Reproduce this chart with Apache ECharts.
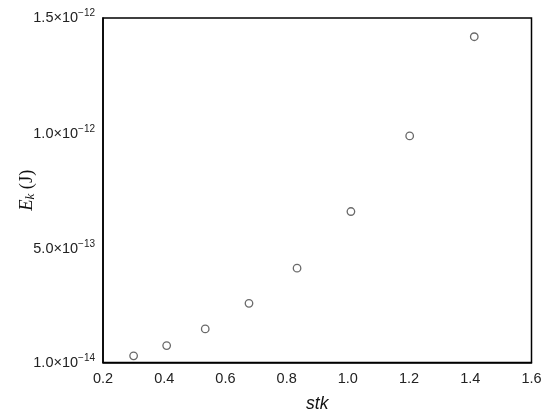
<!DOCTYPE html>
<html>
<head>
<meta charset="utf-8">
<script src="https://cdn.jsdelivr.net/npm/echarts@6/dist/echarts.min.js"></script>
<style>html,body{margin:0;padding:0;background:#fff}#c{width:550px;height:417px}</style>
</head>
<body>
<div id="c"></div>
<script>
const stk = [0.300, 0.408, 0.534, 0.677, 0.834, 1.010, 1.202, 1.413];
const Ek = [3.9e-14, 8.3e-14, 1.55e-13, 2.66e-13, 4.18e-13, 6.63e-13, 9.9e-13, 1.419e-12];
const yTickValues = [1.0e-14, 5.0e-13, 1.0e-12, 1.5e-12];
const yTickMantissa = ['1.0', '5.0', '1.0', '1.5'];
const yTickExponent = ['\u221214', '\u221213', '\u221212', '\u221212'];
const xMin = 0.2, xMax = 1.6, xStep = 0.2;

const chart = echarts.init(document.getElementById('c'), null, {renderer: 'canvas'});
const font = 'Liberation Sans, Arial, sans-serif';
const serif = 'Liberation Serif, Times New Roman, serif';
chart.setOption({
  animation: false,
  backgroundColor: '#fff',
  grid: {left: 103, right: 18.5, top: 18, bottom: 54.5, containLabel: false, outerBoundsMode: 'none',
    show: true, borderColor: '#000', borderWidth: 1.5, backgroundColor: 'transparent'},
  xAxis: {
    type: 'value', min: xMin, max: xMax, interval: xStep,
    name: 'stk', nameLocation: 'middle', nameGap: 33, nameMoveOverlap: false,
    nameTextStyle: {fontFamily: font, fontSize: 17.5, fontStyle: 'italic', color: '#111'},
    axisLine: {show: true, lineStyle: {color: '#000', width: 1.5}},
    axisTick: {show: false},
    splitLine: {show: false},
    axisLabel: {fontFamily: font, fontSize: 14.5, color: '#222', margin: 9,
      formatter: v => v.toFixed(1)}
  },
  yAxis: {
    type: 'value', min: yTickValues[0], max: yTickValues[yTickValues.length - 1],
    name: '{e|E}{k|k}{j| (J)}', nameLocation: 'middle', nameRotate: 90, nameGap: 66, nameMoveOverlap: false,
    nameTextStyle: {
      rich: {
        e: {fontFamily: serif, fontStyle: 'italic', fontSize: 18.5, color: '#111'},
        k: {fontFamily: serif, fontStyle: 'italic', fontSize: 13, color: '#111', verticalAlign: 'bottom', padding: [6, 0, 0, 0]},
        j: {fontFamily: serif, fontSize: 18.5, color: '#111'}
      }
    },
    axisLine: {show: true, lineStyle: {color: '#000', width: 1.5}},
    axisTick: {show: false},
    splitLine: {show: false},
    axisLabel: {
      customValues: yTickValues,
      margin: 8,
      formatter: function (v) {
        let best = 0;
        for (let i = 1; i < yTickValues.length; i++) {
          if (Math.abs(yTickValues[i] - v) < Math.abs(yTickValues[best] - v)) best = i;
        }
        return '{m|' + yTickMantissa[best] + '\u00d710}{s|' + yTickExponent[best] + '}';
      },
      rich: {
        m: {fontFamily: font, fontSize: 14.5, color: '#222'},
        s: {fontFamily: font, fontSize: 10, color: '#222', verticalAlign: 'top', padding: [0, 0, 9, 0]}
      }
    }
  },
  series: [{
    type: 'scatter',
    data: stk.map((x, i) => [x, Ek[i]]),
    symbol: 'circle', symbolSize: 7.5,
    itemStyle: {color: '#fff', borderColor: '#444', borderWidth: 1.3}
  }]
});
</script>
</body>
</html>
